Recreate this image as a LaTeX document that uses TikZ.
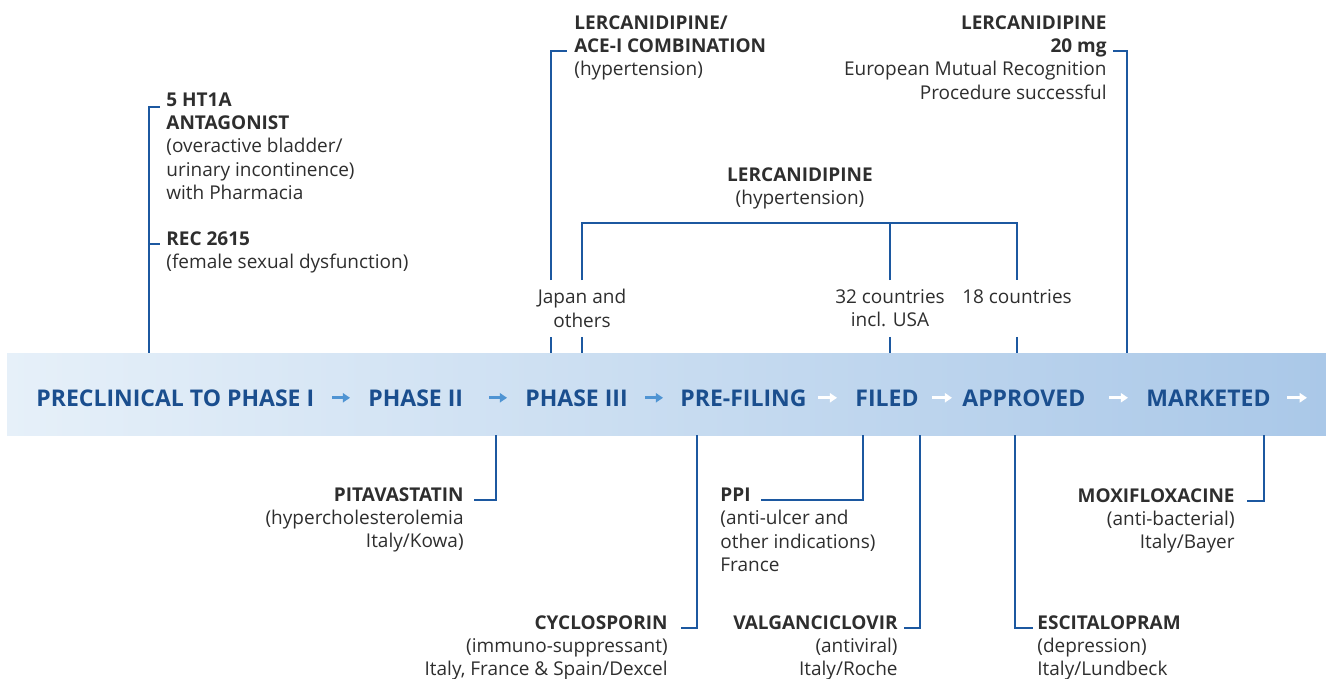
\documentclass[tikz,border=0pt]{standalone}
\usepackage{fontspec}
\setmainfont{Open Sans}
\usetikzlibrary{arrows.meta}

\definecolor{bandleft}{HTML}{E6F0F9}
\definecolor{bandright}{HTML}{AAC8E8}
\definecolor{stageblue}{HTML}{1A4E8E}
\definecolor{linkblue}{HTML}{1C58A0}
\definecolor{labelgray}{HTML}{2E2E2E}
\definecolor{arrowblue}{HTML}{4F94D3}

\tikzset{
  band/.style={inner sep=0pt, minimum width=659.5pt, minimum height=41pt,
    left color=bandleft, right color=bandright},
  stage/.style={font=\fontsize{11.5}{13}\selectfont\bfseries, text=stageblue,
    inner sep=0pt, anchor=base west},
  drug/.style={font=\fontsize{9.5}{11.7}\selectfont, text=labelgray, inner sep=0pt},
  country/.style={drug, anchor=north, align=center, inner ysep=4.5pt},
  link/.style={draw=linkblue, line width=1.2pt},
  stagearrow/.style={line width=1.4pt, -{Triangle[width=4.6pt,length=3.6pt]}},
}

\begin{document}
\begin{tikzpicture}[x=0.5pt, y=-0.5pt]
\useasboundingbox (0,0) rectangle (1326,679);

% stage band
\node (band) [band] at (666.5,394) {};

\node (pre) [stage] at (36,406) {PRECLINICAL TO PHASE I};
\node (ph2) [stage] at (368,406) {PHASE II};
\node (ph3) [stage] at (525,406) {PHASE III};
\node (pref) [stage] at (680,406) {PRE-FILING};
\node (filed) [stage] at (855,406) {FILED};
\node (appr) [stage] at (962,406) {APPROVED};
\node (mkt) [stage] at (1146,406) {MARKETED};

\draw[stagearrow, arrowblue] ([xshift=-18pt]ph2.west) -- ([xshift=-9pt]ph2.west);
\draw[stagearrow, arrowblue] ([xshift=-18pt]ph3.west) -- ([xshift=-9pt]ph3.west);
\draw[stagearrow, arrowblue] ([xshift=-17.5pt]pref.west) -- ([xshift=-8.5pt]pref.west);
\draw[stagearrow, white] ([xshift=-18.5pt]filed.west) -- ([xshift=-9pt]filed.west);
\draw[stagearrow, white] ([xshift=-15pt]appr.west) -- ([xshift=-5pt]appr.west);
\draw[stagearrow, white] ([xshift=-18.5pt]mkt.west) -- ([xshift=-9pt]mkt.west);
\draw[stagearrow, white] ([xshift=8pt]mkt.east) -- ([xshift=18pt]mkt.east);

% above the band
\node (ht1a) [drug, anchor=north west, align=left] at (166,92)
  {\textbf{5 HT1A}\\\textbf{ANTAGONIST}\\(overactive bladder/\\urinary incontinence)\\with Pharmacia};
\node (rec) [drug, anchor=north west, align=left] at (166,231)
  {\textbf{REC 2615}\\(female sexual dysfunction)};
\coordinate (htcorner) at (149,107);
\coordinate (reccorner) at (149,244);
\draw[link, shorten >=3pt] (band.north -| htcorner) -- (htcorner) -- (htcorner -| ht1a.west);
\draw[link, shorten >=3pt] (reccorner) -- (reccorner -| rec.west);

\node (ace) [drug, anchor=north west, align=left] at (574,15)
  {\textbf{LERCANIDIPINE/}\\\textbf{ACE-I COMBINATION}\\(hypertension)};
\node (lerc20) [drug, anchor=north east, align=right] at (1107,15)
  {\textbf{LERCANIDIPINE}\\\textbf{20 mg}\\European Mutual Recognition\\Procedure successful};
\node (lercmid) [drug, anchor=north, align=center] at (800,167)
  {\textbf{LERCANIDIPINE}\\(hypertension)};

\node (japan) [country] at (582,280) {Japan and\\others};
\node (usa) [country] at (890,280) {32 countries\\incl. USA};
\node (eighteen) [country] at (1017,280) {18 countries};

\coordinate (acecorner) at (551,51);
\draw[link] (band.north -| acecorner) -- (japan.south -| acecorner);
\draw[link, shorten >=3.5pt] (japan.north -| acecorner) -- (acecorner) -- (acecorner -| ace.west);

\coordinate (corner20) at (1127,51);
\draw[link, shorten >=3pt] (band.north -| corner20) -- (corner20) -- (corner20 -| lerc20.east);

\coordinate (bar) at (800,223);
\draw[link] (japan.north) |- (bar) -| (japan.north -| eighteen);
\draw[link] (japan.north -| usa) -- (bar -| usa);
\draw[link] (japan.south) -- (band.north -| japan);
\draw[link] (japan.south -| usa) -- (band.north -| usa);
\draw[link] (japan.south -| eighteen) -- (band.north -| eighteen);

% below the band
\node (pitav) [drug, anchor=north east, align=right] at (464,487)
  {\textbf{PITAVASTATIN}\\(hypercholesterolemia\\Italy/Kowa)};
\node (cyclo) [drug, anchor=north east, align=right] at (668,615)
  {\textbf{CYCLOSPORIN}\\(immuno-suppressant)\\Italy, France \& Spain/Dexcel};
\node (ppi) [drug, anchor=base west, font=\fontsize{9.5}{11.7}\selectfont\bfseries] at (720,501) {PPI};
\node (ppinote) [drug, anchor=north west, align=left] at (720,510)
  {(anti-ulcer and\\other indications)\\France};
\node (valgan) [drug, anchor=north east, align=right] at (898,615)
  {\textbf{VALGANCICLOVIR}\\(antiviral)\\Italy/Roche};
\node (escit) [drug, anchor=north west, align=left] at (1037,615)
  {\textbf{ESCITALOPRAM}\\(depression)\\Italy/Lundbeck};
\node (moxi) [drug, anchor=north east, align=right] at (1235,488)
  {\textbf{MOXIFLOXACINE}\\(anti-bacterial)\\Italy/Bayer};

\coordinate (pitcorner) at (496,500);
\draw[link, shorten >=5pt] (band.south -| pitcorner) -- (pitcorner) -- (pitcorner -| pitav.east);
\coordinate (cyclocorner) at (697,628);
\draw[link, shorten >=6.5pt] (band.south -| cyclocorner) -- (cyclocorner) -- (cyclocorner -| cyclo.east);
\coordinate (ppicorner) at (863,500);
\draw[link, shorten >=5pt] (band.south -| ppicorner) -- (ppicorner) -- (ppicorner -| ppi.east);
\coordinate (valcorner) at (920,628);
\draw[link, shorten >=3pt] (band.south -| valcorner) -- (valcorner) -- (valcorner -| valgan.east);
\coordinate (escorner) at (1015,628);
\draw[link, shorten >=2pt] (band.south -| escorner) -- (escorner) -- (escorner -| escit.west);
\coordinate (moxicorner) at (1264,501);
\draw[link, shorten >=6pt] (band.south -| moxicorner) -- (moxicorner) -- (moxicorner -| moxi.east);
\end{tikzpicture}
\end{document}
